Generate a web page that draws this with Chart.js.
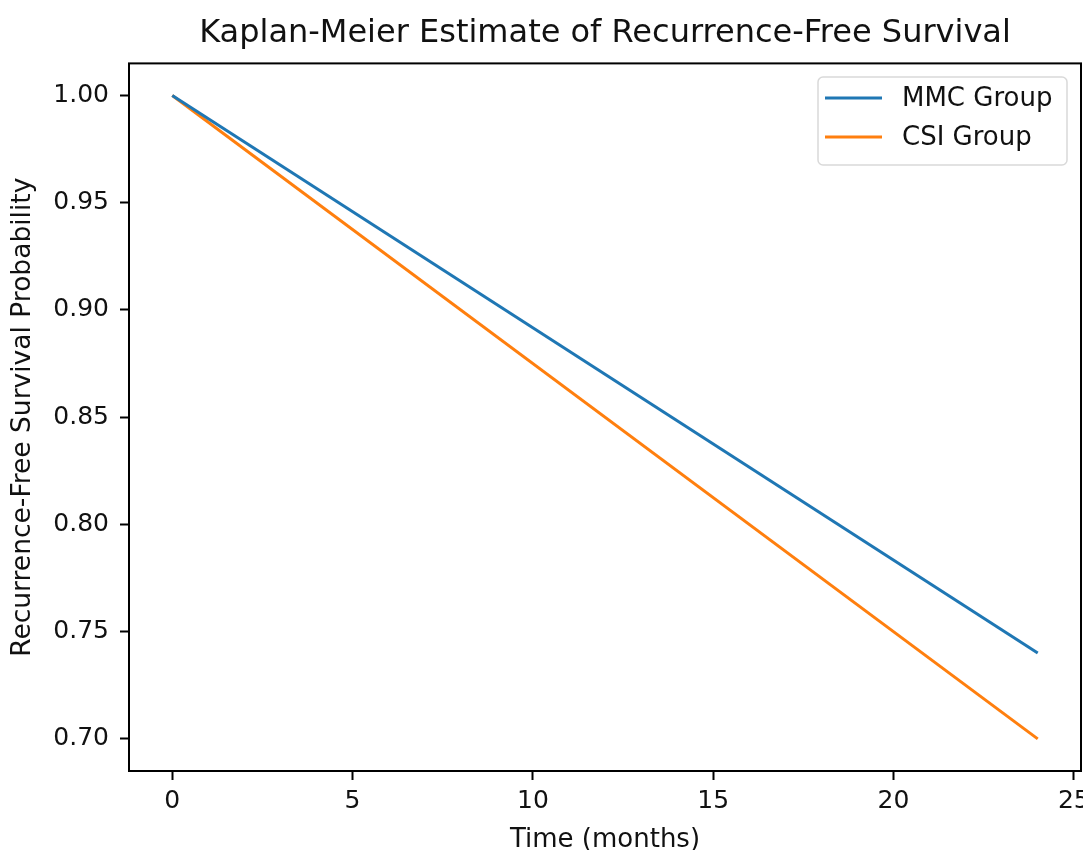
<!DOCTYPE html>
<html>
<head>
<meta charset="utf-8">
<script src="https://cdn.jsdelivr.net/npm/chart.js@4.4.1/dist/chart.umd.min.js"></script>
<style>
  html, body { margin: 0; padding: 0; background: #fff; }
  #wrap { width: 1083px; height: 850px; }
</style>
</head>
<body>
<div id="wrap"><canvas id="kmPlot" width="1083" height="850"></canvas></div>
<script>
// data
const timeMonths = [0, 24];
const mmcSurvival = [1.00, 0.74];
const csiSurvival = [1.00, 0.70];
const xTicks = [0, 5, 10, 15, 20, 25];
const yTicks = [0.70, 0.75, 0.80, 0.85, 0.90, 0.95, 1.00];

const FONT = "'DejaVu Sans', sans-serif";
const INK = "#111";

function toPoints(xs, ys) {
    return xs.map((x, i) => ({ x: x, y: ys[i] }));
}

// frame around the plot area plus a matplotlib-style legend box
const framePlugin = {
    id: "frame",
    afterDraw(chart) {
        const a = chart.chartArea;
        const ctx = chart.ctx;
        ctx.save();
        ctx.strokeStyle = "#000";
        ctx.lineWidth = 2;
        ctx.strokeRect(a.left, a.top, a.right - a.left, a.bottom - a.top);

        // legend
        const bx = 818, by = 77, bw = 249, bh = 88, r = 5;
        ctx.beginPath();
        ctx.moveTo(bx + r, by);
        ctx.arcTo(bx + bw, by, bx + bw, by + bh, r);
        ctx.arcTo(bx + bw, by + bh, bx, by + bh, r);
        ctx.arcTo(bx, by + bh, bx, by, r);
        ctx.arcTo(bx, by, bx + bw, by, r);
        ctx.closePath();
        ctx.fillStyle = "rgba(255,255,255,0.8)";
        ctx.fill();
        ctx.strokeStyle = "#d9d9d9";
        ctx.lineWidth = 1.5;
        ctx.stroke();

        ctx.font = "26px " + FONT;
        ctx.textBaseline = "middle";
        chart.data.datasets.forEach((ds, i) => {
            const y = 98 + i * 39;
            ctx.strokeStyle = ds.borderColor;
            ctx.lineWidth = 3;
            ctx.beginPath();
            ctx.moveTo(825, y);
            ctx.lineTo(882, y);
            ctx.stroke();
            ctx.fillStyle = INK;
            ctx.fillText(ds.label, 902, y + 1);
        });
        ctx.restore();
    }
};

new Chart(document.getElementById("kmPlot"), {
    type: "scatter",
    data: {
        datasets: [
            {
                label: "MMC Group",
                data: toPoints(timeMonths, mmcSurvival),
                borderColor: "#1f77b4",
                backgroundColor: "#1f77b4",
                borderWidth: 3,
                showLine: true,
                pointRadius: 0
            },
            {
                label: "CSI Group",
                data: toPoints(timeMonths, csiSurvival),
                borderColor: "#ff7f0e",
                backgroundColor: "#ff7f0e",
                borderWidth: 3,
                showLine: true,
                pointRadius: 0
            }
        ]
    },
    options: {
        responsive: false,
        animation: false,
        layout: { padding: { left: 0, right: 2, top: 0, bottom: -6 } },
        plugins: {
            legend: { display: false },
            tooltip: { enabled: false },
            title: {
                display: true,
                fullSize: false,
                text: "Kaplan-Meier Estimate of Recurrence-Free Survival",
                color: INK,
                font: { family: FONT, size: 32, weight: "normal" },
                padding: { top: 14, bottom: 11 }
            }
        },
        scales: {
            x: {
                type: "linear",
                min: -1.2,
                max: 25.2,
                afterBuildTicks(scale) {
                    scale.ticks = xTicks.map(v => ({ value: v }));
                },
                afterFit(scale) {
                    scale.height = 85;
                    scale.paddingLeft = 0;
                    scale.paddingRight = 0;
                },
                grid: {
                    drawOnChartArea: false,
                    drawTicks: true,
                    tickLength: 9,
                    tickWidth: 2,
                    tickColor: "#000"
                },
                border: { display: false },
                ticks: {
                    color: INK,
                    padding: 6,
                    font: { family: FONT, size: 25 },
                    callback: v => String(v)
                },
                title: {
                    display: true,
                    text: "Time (months)",
                    color: INK,
                    font: { family: FONT, size: 26 },
                    padding: { top: 0, bottom: 0 }
                }
            },
            y: {
                type: "linear",
                min: 0.685,
                max: 1.015,
                afterBuildTicks(scale) {
                    scale.ticks = yTicks.map(v => ({ value: v }));
                },
                afterFit(scale) {
                    scale.width = 129;
                    scale.paddingTop = 0;
                    scale.paddingBottom = 0;
                },
                grid: {
                    drawOnChartArea: false,
                    drawTicks: true,
                    tickLength: 9,
                    tickWidth: 2,
                    tickColor: "#000"
                },
                border: { display: false },
                ticks: {
                    color: INK,
                    padding: 11,
                    font: { family: FONT, size: 25 },
                    callback: v => v.toFixed(2)
                },
                title: {
                    display: true,
                    text: "Recurrence-Free Survival Probability",
                    color: INK,
                    font: { family: FONT, size: 26.5 },
                    padding: { top: 7, bottom: 0 }
                }
            }
        }
    },
    plugins: [framePlugin]
});
</script>
</body>
</html>
